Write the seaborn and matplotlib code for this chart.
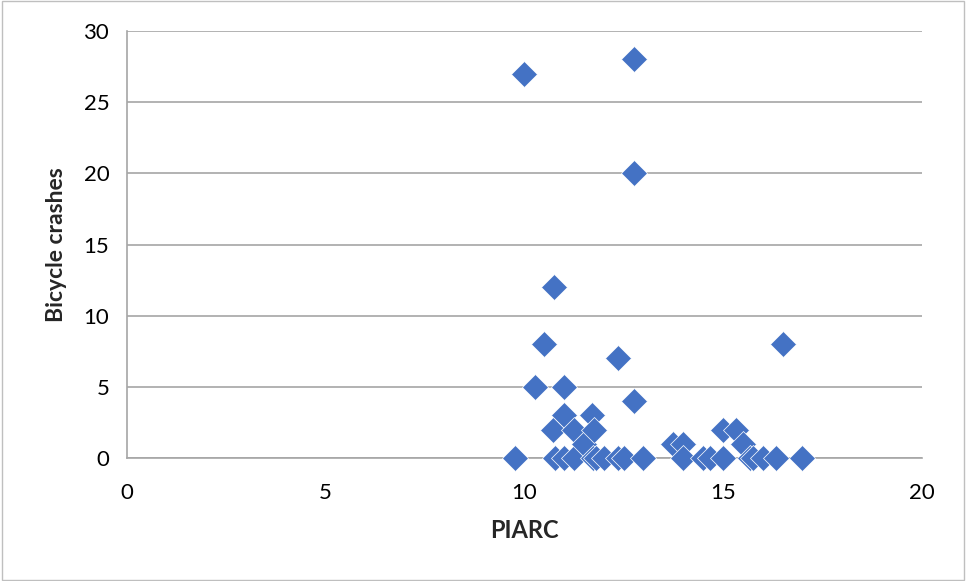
import matplotlib.pyplot as plt
import seaborn as sns
import pandas as pd

# values
piarc = [9.76, 10.0, 10.26, 10.5, 10.72, 10.75, 10.77, 11.0, 11.0, 11.0,
         11.25, 11.25, 11.5, 11.7, 11.75, 11.72, 11.8, 12.0, 12.35, 12.35,
         12.5, 12.75, 12.75, 12.75, 13.0, 13.75, 14.0, 14.0, 14.5, 14.67,
         15.0, 15.0, 15.33, 15.5, 15.67, 15.75, 16.0, 16.33, 16.5, 17.0]
crashes = [0, 27, 5, 8, 2, 12, 0, 5, 3, 0,
           2, 0, 1, 3, 2, 0, 0, 0, 7, 0,
           0, 28, 20, 4, 0, 1, 1, 0, 0, 0,
           2, 0, 2, 1, 0, 0, 0, 0, 8, 0]

df = pd.DataFrame({"PIARC": piarc, "Bicycle crashes": crashes})

sns.set_style("white")
plt.rcParams["font.family"] = ["Lato", "DejaVu Sans"]

fig = plt.figure(figsize=(9.66, 5.81), dpi=100)
ax = fig.add_axes([0.1315, 0.2117, 0.954 - 0.1315, 0.9466 - 0.2117])

sns.scatterplot(data=df, x="PIARC", y="Bicycle crashes", marker="D", s=175,
                color="#4472C4", edgecolor="white", linewidth=0.5,
                ax=ax, zorder=3, clip_on=False)

ax.set_xlim(0, 20)
ax.set_ylim(0, 30)
ax.set_xticks([0, 5, 10, 15, 20])
ax.set_yticks([0, 5, 10, 15, 20, 25, 30])
ax.yaxis.grid(True, color="#A6A6A6", linewidth=1.2)
ax.set_axisbelow(True)
for side in ["top", "right"]:
    ax.spines[side].set_visible(False)
for side in ["left", "bottom"]:
    ax.spines[side].set_color("#A6A6A6")
    ax.spines[side].set_linewidth(1.2)
ax.tick_params(axis="both", direction="out", length=5.8, width=1.2,
               color="#A6A6A6", labelsize=16, labelcolor="black")
ax.tick_params(axis="y", pad=7)
ax.tick_params(axis="x", pad=12)
ax.set_xlabel("PIARC", fontsize=17, fontweight="bold", labelpad=12)
ax.set_ylabel("Bicycle crashes", fontsize=16.5, fontweight="bold", labelpad=12)

fig.patches.append(plt.Rectangle((0.002, 0.002), 0.996, 0.996, transform=fig.transFigure,
                                 fill=False, edgecolor="#BFBFBF", linewidth=1))

fig.savefig("out.png", dpi=100)
